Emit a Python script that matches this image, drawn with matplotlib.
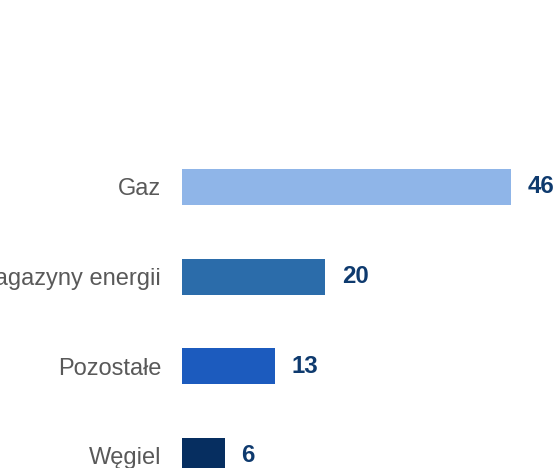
import matplotlib
matplotlib.use("Agg")
import matplotlib.pyplot as plt

# data, bottom to top
categories = ["Węgiel", "Pozostałe", "Magazyny energii", "Gaz"]
values = [6, 13, 20, 46]
colors = ["#062E60", "#1C5BBE", "#2B6CAA", "#8FB5E8"]

plt.rcParams["font.family"] = ["Liberation Sans", "DejaVu Sans"]

fig = plt.figure(figsize=(5.53, 4.68), dpi=100)
ax = fig.add_axes([182 / 553, 0, 1 - 182 / 553, 1])

ypos = list(range(len(categories)))
bars = ax.barh(ypos, values, height=0.40, color=colors)

ax.set_xlim(0, 371 / 7.15)
ax.set_ylim(-0.134, 5.084)

ax.set_yticks(ypos)
ax.set_yticklabels(categories, fontsize=17, color="#595959")
ax.tick_params(axis="y", length=0, pad=15)
ax.set_xticks([])

for s in ax.spines.values():
    s.set_visible(False)

ax.bar_label(bars, labels=[str(v) for v in values], padding=12,
             fontsize=17.3, fontweight="bold", color="#0E3A6E")

fig.savefig("out.png", dpi=100)
